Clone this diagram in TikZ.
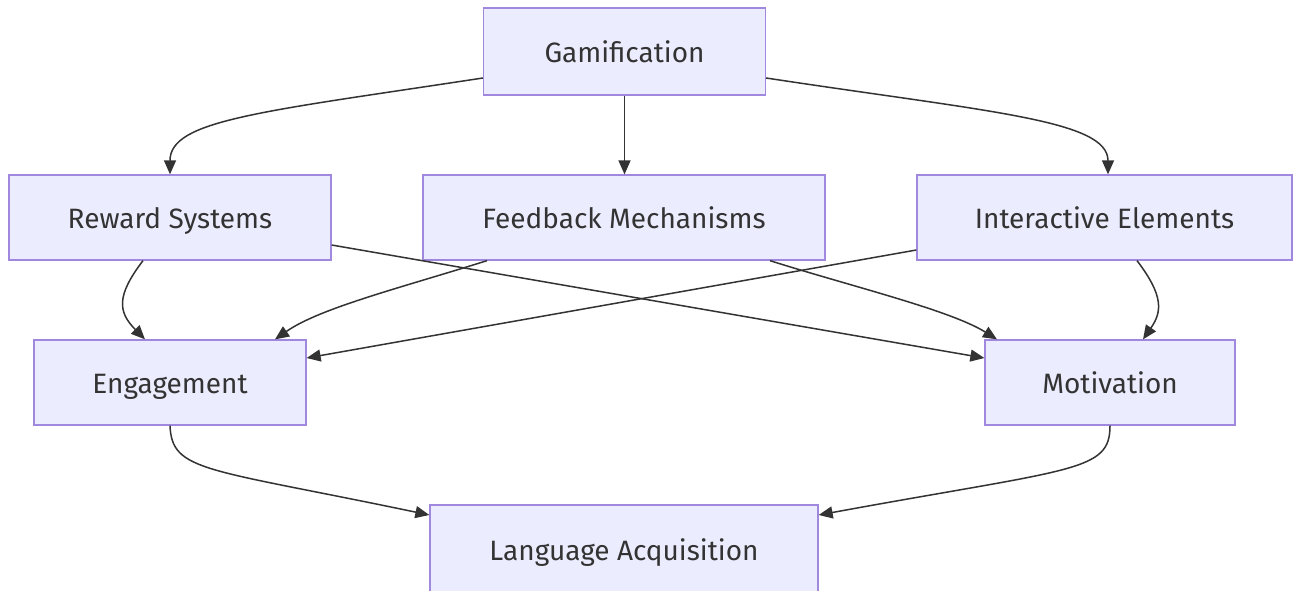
\documentclass[tikz,border=0pt]{standalone}
\usepackage{fontspec}
\setmainfont{Fira Sans}
\usetikzlibrary{arrows.meta}
\definecolor{boxfill}{HTML}{ECECFF}
\definecolor{boxline}{HTML}{9F88DD}
\definecolor{ink}{HTML}{333333}
\tikzset{
  box/.style={draw=boxline, fill=boxfill, line width=1.3pt, text=ink, font=\fontsize{28}{32}\selectfont, inner sep=0pt, text height=24pt, text depth=2pt, anchor=center},
  conn/.style={draw=ink, line width=1.5pt, -{Triangle[length=14pt,width=12pt]}},
}
\begin{document}
\begin{tikzpicture}[x=1pt,y=-1pt]
\useasboundingbox[fill=white] (0,0) rectangle (1295,590);
\node[box, minimum width=282pt, minimum height=87pt] (gam) at (624.5,51.5) {Gamification};
\node[box, minimum width=322pt, minimum height=85pt] (rew) at (170,217.5) {Reward Systems};
\node[box, minimum width=402pt, minimum height=85pt] (fb) at (624,217.5) {Feedback Mechanisms};
\node[box, minimum width=375pt, minimum height=85pt] (ie) at (1104.5,217.5) {Interactive Elements};
\node[box, minimum width=272pt, minimum height=85pt] (eng) at (170,382.5) {Engagement};
\node[box, minimum width=250pt, minimum height=85pt] (mot) at (1110,382.5) {Motivation};
\node[box, minimum width=388pt, minimum height=88pt] (la) at (624,549) {Language Acquisition};

\path[conn] (gam.west |- 0,78) .. controls (260,112) and (170,120) .. (rew.north);
\path[conn] (gam.south) -- (gam.south |- fb.north);
\path[conn] (gam.east |- 0,78) .. controls (990,112) and (1108,120) .. (ie.north -| 1108,0);
\path[conn] (rew.south -| 143,0) .. controls (116,296) and (118,312) .. (eng.north -| 145,0);
\path[conn] (ie.south -| 1137,0) .. controls (1164,296) and (1162,312) .. (mot.north -| 1143,0);
\path[conn] (rew.east |- 0,245) -- (mot.west |- 0,358);
\path[conn] (ie.west |- 0,250) -- (eng.east |- 0,358);
\path[conn] (fb.south -| 487,0) .. controls (400,288) and (320,308) .. (eng.north -| 275,0);
\path[conn] (fb.south -| 770,0) .. controls (850,286) and (950,310) .. (mot.north -| 997,0);
\path[conn] (eng.south) .. controls (172,472) and (205,468) .. (la.west |- 0,515);
\path[conn] (mot.south) .. controls (1110,472) and (1075,468) .. (la.east |- 0,515);
\end{tikzpicture}
\end{document}
